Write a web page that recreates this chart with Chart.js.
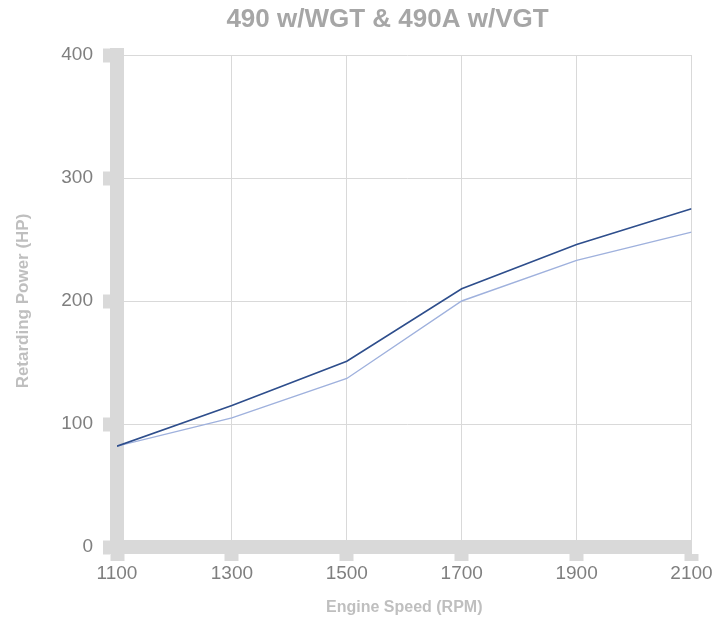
<!DOCTYPE html>
<html>
<head>
<meta charset="utf-8">
<script src="https://cdn.jsdelivr.net/npm/chart.js@4"></script>
<style>
  html, body { margin: 0; padding: 0; background: #fff; }
  #wrap { width: 726px; height: 621px; position: relative; }
</style>
</head>
<body>
<div id="wrap"><canvas id="chart"></canvas></div>
<script>
const engineSpeed = [1100, 1300, 1500, 1700, 1900, 2100];
const power490 = [82, 115, 151, 210, 246, 275];
const power490A = [82, 105, 137, 200, 233, 256];

const gridGray = "#d9d9d9";
const tickGray = "#7f7f7f";

const toPoints = (values) =>
  engineSpeed.map((x, i) => ({ x, y: values[i] }));

// keeps the title centred where the original sits
const titleShift = {
  id: "titleShift",
  afterLayout(chart) {
    const t = chart.titleBlock;
    t.left = 0;
    t.right = 775;
    t.width = 775;
  },
};

new Chart(document.getElementById("chart"), {
  type: "line",
  data: {
    datasets: [
      {
        label: "490 w/WGT",
        data: toPoints(power490),
        borderColor: "#2e4e8c",
        borderWidth: 1.6,
        pointRadius: 0,
        tension: 0,
      },
      {
        label: "490A w/VGT",
        data: toPoints(power490A),
        borderColor: "#9fb1dd",
        borderWidth: 1.4,
        pointRadius: 0,
        tension: 0,
      },
    ],
  },
  plugins: [titleShift],
  options: {
    responsive: true,
    maintainAspectRatio: false,
    animation: false,
    layout: { padding: { left: 0, right: 34.5, top: 0, bottom: 0 } },
    plugins: {
      legend: { display: false },
      tooltip: { enabled: false },
      title: {
        display: true,
        text: "490 w/WGT & 490A w/VGT",
        color: "#a6a6a6",
        font: { family: "Liberation Sans, Arial, sans-serif", size: 26, weight: "bold" },
        padding: { top: 4, bottom: 19.8 },
      },
    },
    scales: {
      x: {
        type: "linear",
        min: 1100,
        max: 2100,
        afterFit: (s) => { s.height = 74; },
        ticks: {
          stepSize: 200,
          padding: 1,
          color: tickGray,
          font: { family: "Liberation Sans, Arial, sans-serif", size: 19 },
          callback: (value) => String(value),
        },
        grid: {
          color: gridGray,
          lineWidth: 1,
          tickColor: gridGray,
          tickWidth: 14,
          tickLength: 14,
        },
        border: { color: gridGray, width: 14 },
        title: {
          display: true,
          text: "Engine Speed (RPM)",
          color: "#bfbfbf",
          font: { family: "Liberation Sans, Arial, sans-serif", size: 16, weight: "bold" },
          padding: { top: 0, bottom: 3.4 },
        },
      },
      y: {
        min: 0,
        max: 400,
        afterFit: (s) => { s.width = 117; },
        ticks: {
          stepSize: 100,
          padding: 10,
          color: tickGray,
          font: { family: "Liberation Sans, Arial, sans-serif", size: 19 },
        },
        grid: {
          color: gridGray,
          lineWidth: 1,
          tickColor: gridGray,
          tickWidth: 14,
          tickLength: 14,
        },
        border: { color: gridGray, width: 14 },
        title: {
          display: true,
          text: "Retarding Power (HP)",
          color: "#bfbfbf",
          font: { family: "Liberation Sans, Arial, sans-serif", size: 17, weight: "bold" },
          padding: { top: 12.8, bottom: 0 },
        },
      },
    },
  },
});
</script>
</body>
</html>
